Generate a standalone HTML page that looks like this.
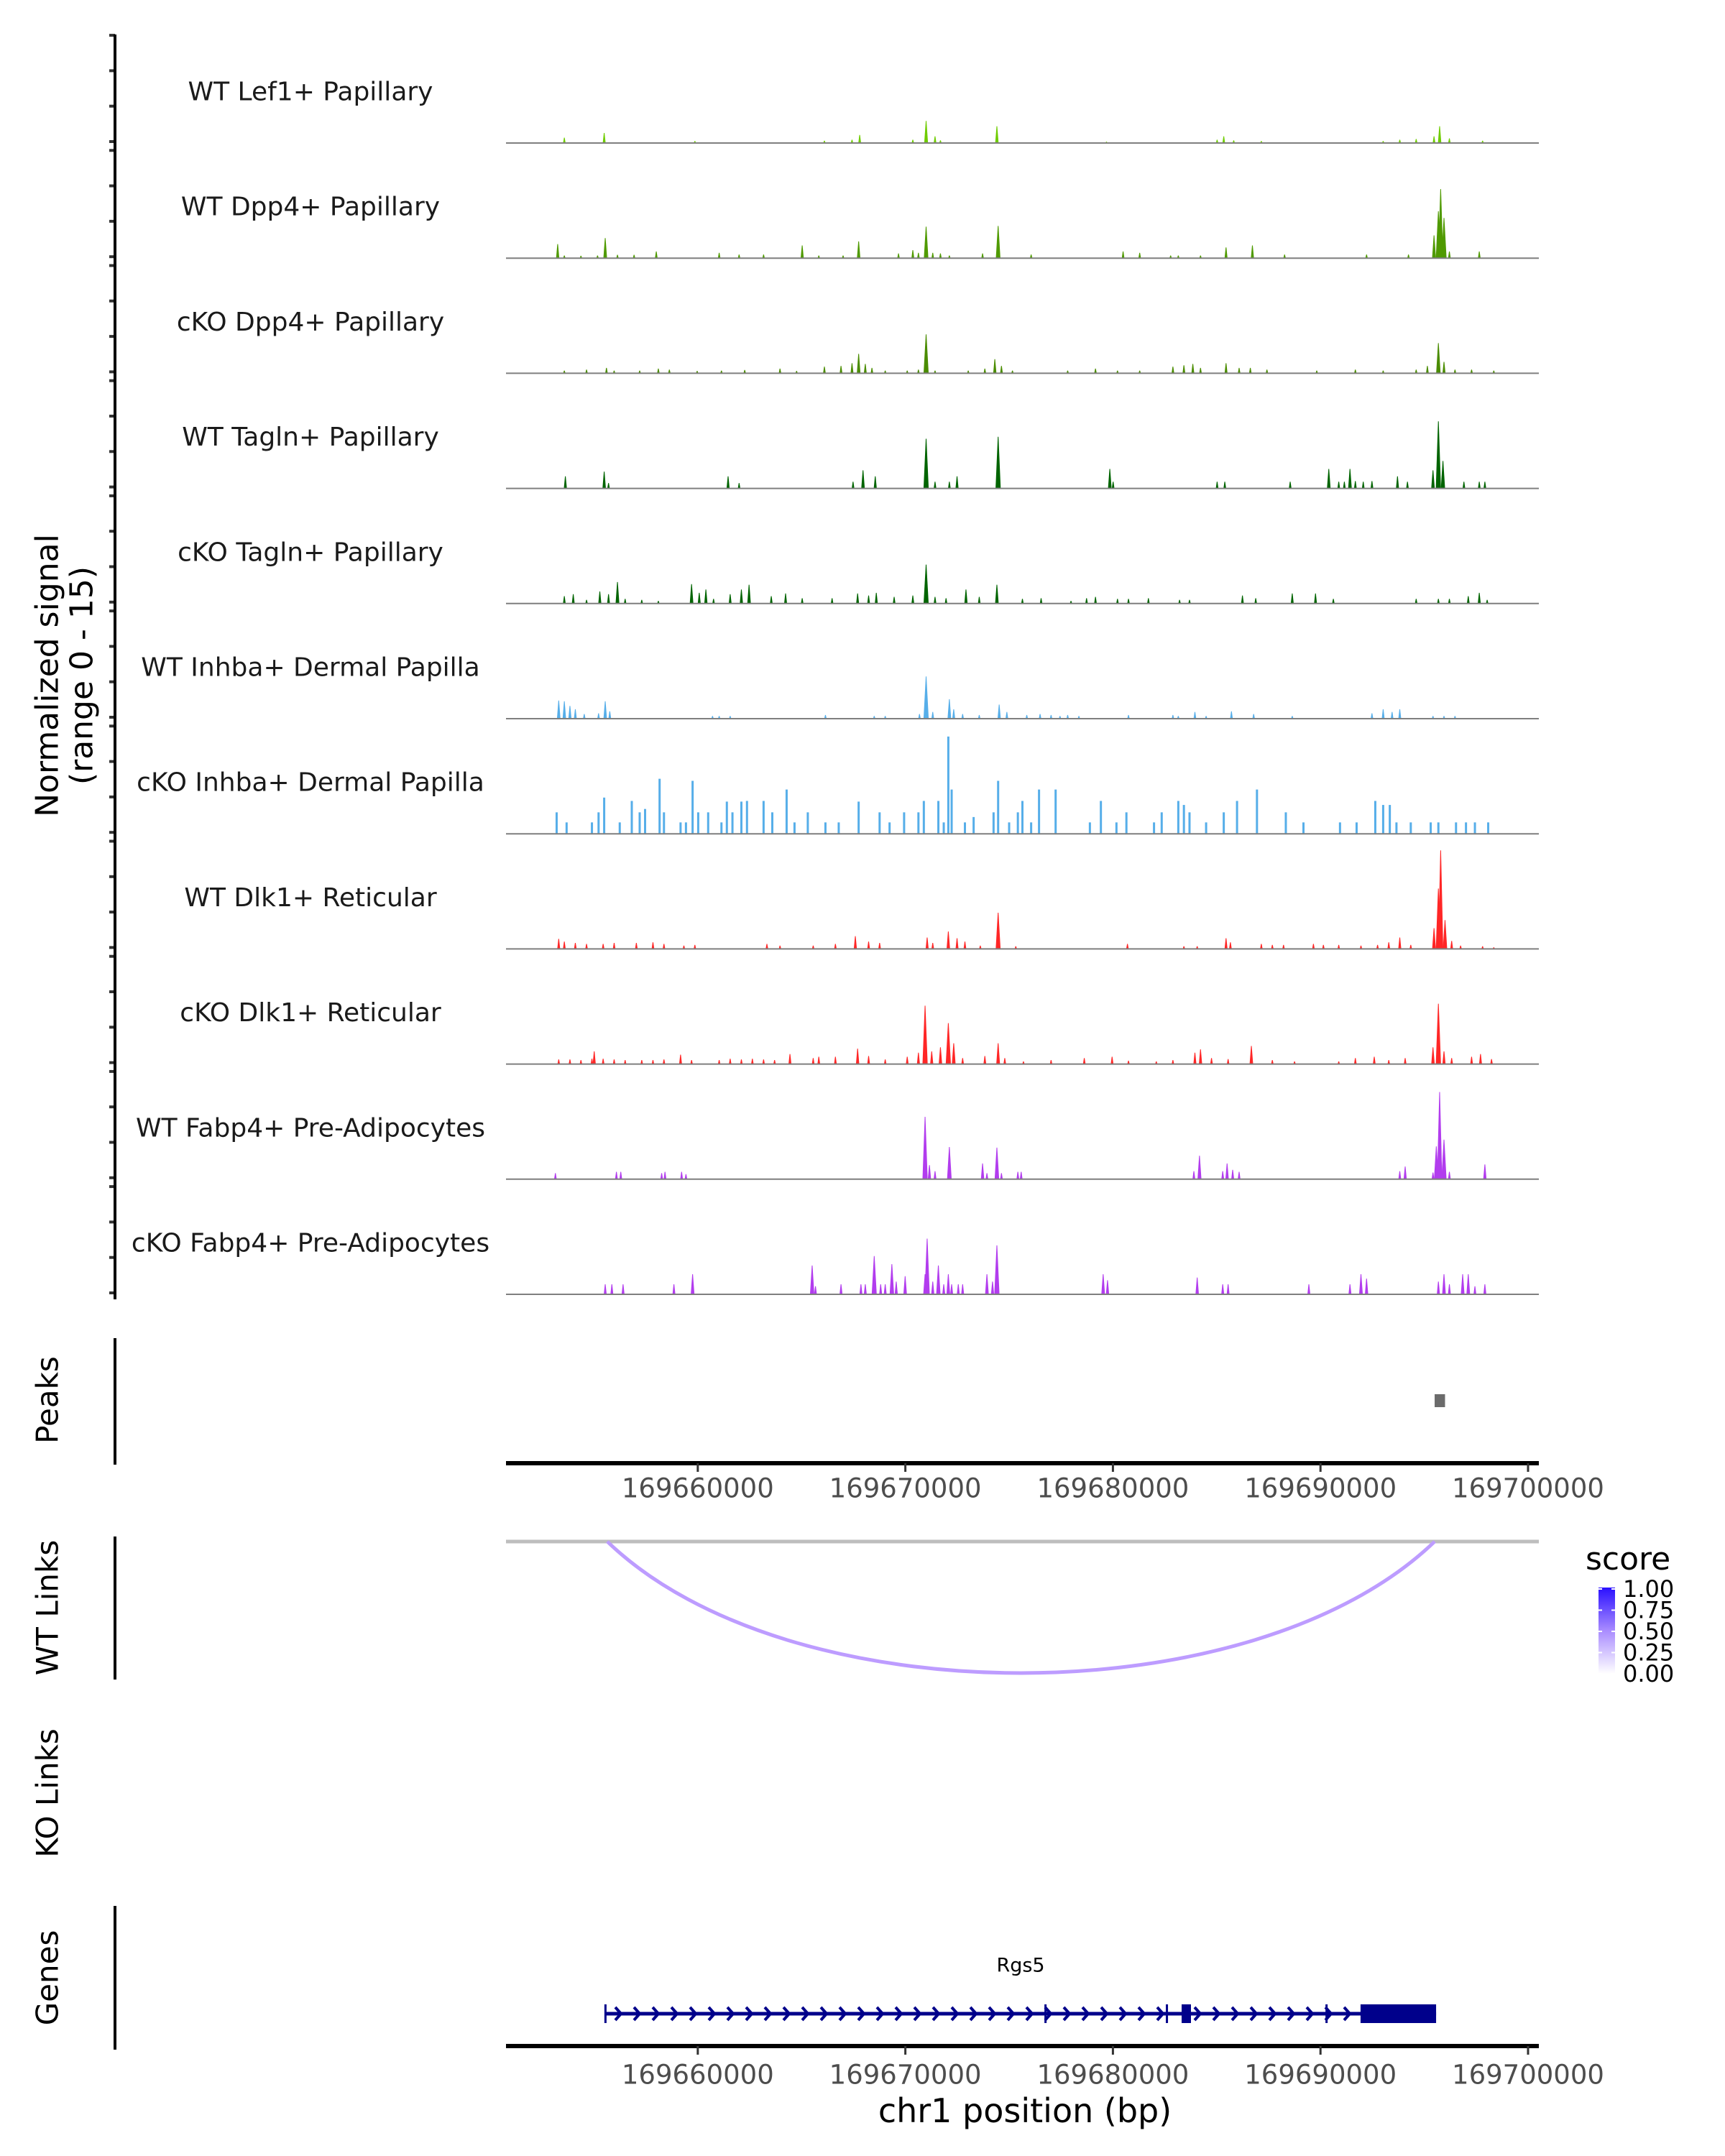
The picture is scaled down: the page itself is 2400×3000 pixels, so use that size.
<!DOCTYPE html>
<html><head><meta charset="utf-8">
<style>
html,body{margin:0;padding:0;background:#fff;}
svg{display:block;}
text{font-family:"DejaVu Sans","Liberation Sans",sans-serif;}
</style></head>
<body>
<svg id="chart" xmlns="http://www.w3.org/2000/svg" width="2400" height="3000" viewBox="0 0 2400 3000">
<defs>
<linearGradient id="scoreGrad" x1="0" y1="1" x2="0" y2="0">
<stop offset="0" stop-color="#ffffff"/>
<stop offset="0.5" stop-color="#a98cff"/>
<stop offset="1" stop-color="#2a10ff"/>
</linearGradient>
</defs>
<g id="tracks"></g>
<g id="frame"></g>
</svg>
<script>
// ---- data (positions in kb offset from chr1:169,650,000; heights = normalized signal 0-15)
const regionStartKb = 169650.76;
const regionEndKb = 169700.52;
const positionTicks = [169660000, 169670000, 169680000, 169690000, 169700000];
const trackNames = ["WT Lef1+ Papillary","WT Dpp4+ Papillary","cKO Dpp4+ Papillary","WT Tagln+ Papillary","cKO Tagln+ Papillary","WT Inhba+ Dermal Papilla","cKO Inhba+ Dermal Papilla","WT Dlk1+ Reticular","cKO Dlk1+ Reticular","WT Fabp4+ Pre-Adipocytes","cKO Fabp4+ Pre-Adipocytes"];
const trackColors = ["#6fcc00","#4f9a00","#4a8c00","#006400","#006400","#56aee9","#56aee9","#ff2626","#ff2626","#b23cee","#b23cee"];
const trackLef1 = [[3.57,0.8],[5.49,1.5],[9.86,0.3],[16.1,0.35],[17.43,0.5],[17.8,1.2],[20.36,0.5],[21.0,3.3],[21.43,1.0],[21.69,0.4],[24.41,2.5],[29.69,0.2],[35.02,0.5],[35.34,1.0],[35.82,0.4],[37.15,0.3],[43.02,0.3],[43.82,0.5],[44.61,0.6],[45.47,1.0],[45.74,2.5],[46.21,0.7],[47.81,0.35]];
const trackWtDpp4 = [[3.25,2.1],[3.57,0.4],[4.37,0.35],[5.17,0.4],[5.54,3.0],[6.13,0.5],[6.93,0.5],[8.0,1.0],[11.03,0.8],[11.99,0.55],[13.17,0.55],[15.03,1.9],[15.83,0.4],[17.0,0.4],[17.75,2.5],[19.67,0.7],[20.36,1.2],[20.63,0.8],[21.0,4.7],[21.32,0.8],[21.69,0.7],[22.12,0.4],[23.72,0.7],[24.47,4.8],[26.06,0.55],[30.49,1.0],[31.29,0.8],[32.78,0.4],[33.15,0.4],[34.22,0.4],[35.45,1.6],[36.72,1.9],[38.27,0.55],[42.22,0.55],[44.24,0.55],[45.47,3.4],[45.68,7.0],[45.79,10.3],[45.95,6.0],[46.21,1.0],[47.65,1.0]];
const trackCkoDpp4 = [[3.57,0.4],[4.64,0.55],[5.6,0.8],[5.97,0.4],[7.2,0.4],[8.1,0.7],[8.63,0.55],[9.97,0.35],[11.14,0.4],[12.26,0.5],[13.96,0.7],[14.76,0.35],[16.1,1.0],[16.9,1.1],[17.43,1.5],[17.75,2.9],[18.07,1.4],[18.39,0.8],[19.03,0.4],[20.09,0.4],[20.63,0.55],[21.0,5.8],[21.43,0.4],[23.03,0.4],[23.83,0.7],[24.31,2.1],[24.63,1.1],[25.16,0.4],[27.82,0.4],[29.16,0.7],[30.22,0.4],[31.29,0.4],[32.89,1.0],[33.42,1.2],[33.85,1.4],[34.22,0.8],[35.45,1.5],[36.08,0.8],[36.62,0.8],[37.42,0.55],[39.82,0.4],[41.68,0.55],[43.02,0.4],[44.61,0.55],[45.15,1.1],[45.68,4.5],[45.95,1.7],[46.48,0.55],[47.28,0.55],[48.35,0.4]];
const trackWtTagln = [[3.62,1.8],[5.49,2.5],[5.7,0.8],[11.46,1.8],[11.99,0.8],[17.48,1.0],[17.96,2.7],[18.55,1.8],[21.0,7.4],[21.43,1.0],[22.12,1.0],[22.49,1.8],[24.47,7.7],[29.85,2.9],[30.01,1.0],[35.02,1.0],[35.39,1.0],[38.54,1.0],[40.4,2.9],[40.88,1.0],[41.15,1.0],[41.42,2.9],[41.68,1.1],[42.06,1.0],[42.48,1.1],[43.71,1.8],[44.19,1.0],[45.42,2.7],[45.68,10.0],[45.9,4.1],[46.91,1.0],[47.65,1.0],[47.92,1.0]];
const trackCkoTagln = [[3.57,1.1],[4.0,1.4],[4.64,0.55],[5.28,1.8],[5.7,1.4],[6.13,3.2],[6.5,0.7],[7.3,0.55],[8.1,0.4],[9.7,2.9],[10.07,1.6],[10.39,2.1],[10.76,0.7],[11.56,1.4],[12.1,2.1],[12.47,2.8],[13.54,1.1],[14.23,1.5],[15.03,0.8],[16.47,0.8],[17.7,1.5],[18.23,1.2],[18.6,1.6],[19.46,1.0],[20.36,1.2],[21.0,5.8],[21.43,1.0],[21.96,0.8],[22.92,2.1],[23.56,1.0],[24.41,2.8],[25.64,0.7],[26.54,0.8],[27.98,0.4],[28.73,0.8],[29.16,1.0],[30.22,0.7],[30.75,0.7],[31.71,0.8],[33.21,0.55],[33.69,0.55],[36.24,1.2],[36.88,0.8],[38.64,1.5],[39.76,1.5],[40.62,0.7],[44.61,0.7],[45.68,0.7],[46.21,0.7],[47.12,1.1],[47.65,1.6],[48.03,0.55]];
const trackWtInhba = [[3.3,2.7],[3.57,2.6],[3.84,1.9],[4.1,1.4],[4.53,0.7],[5.22,0.8],[5.54,2.6],[5.76,1.1],[10.71,0.4],[11.03,0.4],[11.56,0.4],[16.15,0.55],[18.5,0.4],[19.03,0.4],[20.68,0.7],[21.0,6.3],[21.32,1.0],[22.12,2.9],[22.33,1.4],[22.76,0.7],[23.56,0.55],[24.52,2.1],[24.89,1.0],[25.85,0.55],[26.49,0.7],[27.02,0.55],[27.45,0.4],[27.82,0.55],[28.36,0.4],[30.75,0.55],[32.89,0.55],[33.15,0.4],[33.95,1.0],[34.49,0.4],[35.71,1.1],[36.78,0.7],[38.64,0.4],[42.48,0.8],[43.02,1.4],[43.45,1.0],[43.82,1.4],[45.42,0.4],[45.95,0.4],[46.48,0.4]];
const trackCkoInhba = [[3.2,3.2],[3.68,1.7],[4.9,1.7],[5.22,3.2],[5.49,5.4],[6.24,1.7],[6.82,4.9],[7.2,3.2],[7.46,3.7],[8.16,8.2],[8.37,3.2],[9.17,1.7],[9.43,1.7],[9.75,7.9],[10.02,3.2],[10.5,3.2],[11.14,1.7],[11.4,4.8],[11.67,3.2],[12.1,4.8],[12.37,4.9],[13.17,4.9],[13.59,3.2],[14.28,6.6],[14.66,1.7],[15.3,3.2],[16.15,1.7],[16.79,1.7],[17.75,4.8],[18.76,3.2],[19.24,1.7],[19.94,3.2],[20.63,3.2],[20.89,4.9],[21.59,4.9],[21.85,1.7],[22.07,14.5],[22.23,6.6],[22.87,1.7],[23.29,2.5],[24.25,3.2],[24.47,7.9],[25.0,1.7],[25.42,3.2],[25.64,4.9],[26.06,1.7],[26.44,6.6],[27.24,6.6],[28.89,1.7],[29.42,4.9],[30.17,1.7],[30.65,3.2],[31.98,1.7],[32.35,3.2],[33.15,4.9],[33.42,4.3],[33.69,3.2],[34.49,1.7],[35.34,3.2],[35.98,4.9],[36.94,6.6],[38.33,3.2],[39.18,1.7],[40.94,1.7],[41.74,1.7],[42.64,4.9],[43.02,4.3],[43.34,4.3],[43.66,1.7],[44.35,1.7],[45.31,1.7],[45.68,1.7],[46.53,1.7],[47.01,1.7],[47.44,1.7],[48.08,1.7]];
const trackWtDlk1 = [[3.3,1.5],[3.57,1.1],[4.1,0.9],[4.64,0.75],[5.44,0.75],[5.97,0.9],[7.04,0.9],[7.84,1.0],[8.37,0.75],[9.33,0.5],[9.86,0.6],[13.33,0.75],[13.96,0.5],[15.56,0.5],[16.63,0.75],[17.59,1.9],[18.23,1.1],[18.76,0.9],[21.05,1.7],[21.32,0.9],[22.07,2.6],[22.49,1.6],[22.87,1.1],[23.61,0.5],[24.47,5.4],[25.32,0.4],[30.7,0.75],[33.42,0.4],[34.06,0.4],[35.45,1.6],[35.66,1.0],[37.15,0.75],[37.68,0.6],[38.22,0.6],[39.66,0.75],[40.14,0.6],[40.88,0.6],[41.95,0.5],[42.75,0.6],[43.29,1.0],[43.82,1.7],[44.35,0.6],[45.47,3.1],[45.68,9.0],[45.79,14.7],[46.0,4.3],[46.32,1.2],[46.75,0.5],[47.81,0.4],[48.35,0.25]];
const trackCkoDlk1 = [[3.3,0.7],[3.84,0.7],[4.37,0.6],[4.9,0.8],[5.01,1.9],[5.44,0.8],[5.97,0.7],[6.5,0.6],[7.3,0.6],[7.84,0.6],[8.37,0.7],[9.17,1.4],[9.7,0.6],[11.03,0.6],[11.56,0.8],[12.1,0.7],[12.63,0.8],[13.17,0.7],[13.7,0.6],[14.44,1.5],[15.56,0.9],[15.83,1.1],[16.63,1.1],[17.7,2.3],[18.23,1.2],[19.03,0.7],[20.09,1.1],[20.63,1.7],[20.95,8.7],[21.27,1.9],[21.69,2.5],[22.07,6.1],[22.33,3.1],[22.76,0.9],[23.83,1.2],[24.47,3.1],[24.79,0.9],[25.69,0.4],[27.02,0.6],[28.62,0.9],[29.96,1.1],[30.75,0.5],[32.09,0.4],[32.89,0.6],[33.95,1.7],[34.22,2.2],[34.75,0.9],[35.55,0.75],[36.67,2.7],[37.68,0.6],[38.75,0.4],[40.88,0.4],[41.68,0.9],[42.59,1.1],[43.29,0.6],[44.08,0.9],[45.42,2.5],[45.68,9.0],[45.95,1.9],[46.32,0.9],[47.28,1.1],[47.71,1.5],[48.24,0.75]];
const trackWtFabp4 = [[3.14,0.9],[6.08,1.1],[6.29,1.1],[8.26,0.9],[8.42,1.1],[9.22,1.1],[9.43,0.75],[20.95,9.3],[21.16,2.1],[21.43,1.2],[22.12,4.8],[23.72,2.35],[23.93,0.9],[24.41,4.7],[24.63,0.9],[25.42,1.1],[25.58,1.1],[33.9,1.2],[34.17,3.5],[35.29,1.2],[35.5,2.35],[35.77,1.4],[36.08,1.1],[43.82,1.2],[44.08,1.9],[45.42,1.0],[45.58,4.9],[45.74,13.0],[45.95,5.9],[46.21,1.1],[47.92,2.2]];
const trackCkoFabp4 = [[5.54,1.5],[5.86,1.5],[6.4,1.5],[8.85,1.5],[9.75,3.0],[15.51,4.3],[15.67,1.2],[16.9,1.5],[17.86,1.5],[18.07,1.5],[18.5,5.7],[18.81,1.5],[19.03,1.5],[19.35,4.5],[19.56,1.9],[19.99,2.7],[20.95,3.0],[21.05,8.3],[21.32,1.9],[21.59,4.3],[21.85,1.5],[22.07,3.0],[22.23,1.5],[22.55,1.5],[22.76,1.5],[23.93,3.0],[24.2,1.9],[24.41,7.3],[29.53,3.0],[29.74,2.1],[34.06,2.5],[35.29,1.5],[35.55,1.5],[39.44,1.5],[41.42,1.5],[41.95,3.0],[42.22,2.35],[45.68,1.9],[45.95,3.0],[46.21,1.5],[46.85,3.0],[47.12,3.0],[47.44,1.2],[47.92,1.5]];
const trackSeries = [trackLef1,trackWtDpp4,trackCkoDpp4,trackWtTagln,trackCkoTagln,trackWtInhba,trackCkoInhba,trackWtDlk1,trackCkoDlk1,trackWtFabp4,trackCkoFabp4];
const peakRegions = [[45.5,46.0]];
const linkStarts = [5.64];
const linkEnds = [45.5];
const linkScores = [0.45];
const geneName = "Rgs5";
const geneStartKb = 5.54;
const geneEndKb = 45.57;
const exonsKb = [[5.5,5.6],[26.7,26.78],[32.55,32.62],[33.31,33.76],[40.24,40.32],[41.93,45.57]];
const scoreTicks = ["1.00","0.75","0.50","0.25","0.00"];

// ---- layout
const NS = "http://www.w3.org/2000/svg";
const X0 = 704, X1 = 2141;
const signalMax = 15, trackPx = 140;
const baseline0 = 199, trackStep = 160.2;
function xScale(kbOff){ return X0 + (kbOff - (regionStartKb-169650)) / ((regionEndKb-169650)-(regionStartKb-169650)) * (X1-X0); }
function bpX(bp){ return xScale(bp/1000 - 169650); }
function yScale(v, base){ return base - Math.min(v, signalMax)/signalMax*trackPx; }
function el(tag, attrs, parent, txt){ const e=document.createElementNS(NS,tag); for(const k in attrs) e.setAttribute(k,attrs[k]); if(txt!==undefined) e.textContent=txt; (parent||svg).appendChild(e); return e; }
const svg = document.getElementById('chart');
const tracksG = document.getElementById('tracks');
const frame = document.getElementById('frame');

trackSeries.forEach((series, i) => {
  const base = baseline0 + i*trackStep;
  const g = el('g', {}, tracksG);
  
  
  const lab = el('text', {x:432, y:base-71, 'text-anchor':'middle', 'dominant-baseline':'central', 'font-size':36, fill:'#1a1a1a'}, g, trackNames[i]);
  
  
  const isBar = (i === 6);
  series.forEach(p => {
    const cx = xScale(p[0]);
    const top = yScale(p[1], base);
    let d;
    if (isBar) { d = `M${cx-1.5},${base} L${cx-1.5},${top} L${cx+1.5},${top} L${cx+1.5},${base}Z`; }
    else { const w = 1.5 + Math.min(p[1],6)*0.35; d = `M${cx-w},${base} L${cx-0.5},${top} L${cx+0.5},${top} L${cx+w},${base}Z`; }
    const m = el('path', {d:d, fill:trackColors[i]}, g);
    
    
  });
  const bl = el('line', {x1:X0, x2:X1, y1:base, y2:base, stroke:'#7f7f7f', 'stroke-width':2}, g);
  
  
  for (let k=0;k<4;k++){
    const ty = base - 2 - k*49.3;
    const t = el('line', {x1:152, x2:160, y1:ty, y2:ty, stroke:'#333', 'stroke-width':4}, frame);
    
    
  }
});

function vline(x,y1,y2,name){ const l=el('line',{x1:x,x2:x,y1:y1,y2:y2,stroke:'#000','stroke-width':4},frame);   }
vline(160,48,1808,'signal-y-axis');
vline(160,1862,2038,'peaks-y-axis');
vline(160,2138,2337,'wt-links-y-axis');
vline(160,2652,2852,'genes-y-axis');

function rotLabel(txt, x, y, size, name){ const t=el('text',{x:x,y:y,'text-anchor':'middle','dominant-baseline':'central','font-size':size,fill:'#000',transform:`rotate(-90 ${x} ${y})`},frame,txt);   }
rotLabel('Normalized signal',66,940,44,'y-axis-title');
rotLabel('(range 0 - 15)',114,940,44,'y-axis-subtitle');
rotLabel('Peaks',66,1948,42,'peaks-label');
rotLabel('WT Links',66,2237,42,'wt-links-label');
rotLabel('KO Links',66,2495,42,'ko-links-label');
rotLabel('Genes',66,2752,42,'genes-label');

// peaks
peakRegions.forEach(r => {
  const p = el('rect',{x:xScale(r[0]),y:1940,width:xScale(r[1])-xScale(r[0]),height:18,fill:'#6b6b6b'},frame);
  
  
});

function xAxis(y, labY, name){
  const g = el('g',{},frame);
  
  
  el('line',{x1:X0,x2:X1,y1:y,y2:y,stroke:'#000','stroke-width':6},g);
  positionTicks.forEach(t => {
    const x = bpX(t);
    const tk = el('line',{x1:x,x2:x,y1:y,y2:y+12,stroke:'#333','stroke-width':3},g);
    
    
    const tl = el('text',{x:x,y:labY,'text-anchor':'middle','dominant-baseline':'central','font-size':37,fill:'#4d4d4d'},g,String(t));
    
    
  });
}
xAxis(2036,2071,'peaks-x-axis');

// links
const lb = el('line',{x1:X0,x2:X1,y1:2145,y2:2145,stroke:'#bebebe','stroke-width':5},frame);


linkStarts.forEach((s,i) => {
  const xa = xScale(s), xb = xScale(linkEnds[i]);
  const depth = 183;
  const arc = el('path',{d:`M${xa},2145 C${xa+(xb-xa)*0.22},${2145+depth*1.333} ${xb-(xb-xa)*0.22},${2145+depth*1.333} ${xb},2145`,fill:'none',stroke:'#bd9cff','stroke-width':5},frame);
  
  
});

// legend
const lg = el('g',{},frame);


el('text',{x:2224,y:2206,'font-size':44,'text-anchor':'start',fill:'#000',transform:'translate(-18,-22)'},lg,'score');
el('rect',{x:2224,y:2209,width:23,height:120,fill:'url(#scoreGrad)'},lg);
scoreTicks.forEach((s,i)=>{
  const ty = 2211 + i*29.5;
  el('line',{x1:2224,x2:2229,y1:ty,y2:ty,stroke:'#fff','stroke-width':2},lg);
  el('line',{x1:2242,x2:2247,y1:ty,y2:ty,stroke:'#fff','stroke-width':2},lg);
  el('text',{x:2258,y:ty,'dominant-baseline':'central','font-size':32,fill:'#000'},lg,s);
});

// gene
const gg = el('g',{},frame);


const gy = 2802;
const gx0 = xScale(geneStartKb), gx1 = xScale(geneEndKb);
el('line',{x1:gx0,x2:gx1,y1:gy,y2:gy,stroke:'#00008b','stroke-width':5},gg);
for (let x = gx0 + 18; x < gx1 - 10; x += 26) {
  const inExon = exonsKb.some(e => x+6 > xScale(e[0]) && x-6 < xScale(e[1]) && (xScale(e[1])-xScale(e[0]))>10);
  if (inExon) continue;
  el('path',{d:`M${x-4},${gy-9} L${x+4},${gy} L${x-4},${gy+9}`,fill:'none',stroke:'#00008b','stroke-width':4},gg);
}
exonsKb.forEach(e=>{
  const a = xScale(e[0]), b = xScale(e[1]);
  const w = Math.max(b-a, 3);
  const r = el('rect',{x:a,y:gy-13,width:w,height:26,fill:'#00008b'},gg);
  
  
});
el('text',{x:(gx0+gx1)/2,y:2735,'text-anchor':'middle','dominant-baseline':'central','font-size':27,fill:'#000'},gg,geneName);

xAxis(2847,2887,'genes-x-axis');
const xt = el('text',{x:1426,y:2937,'text-anchor':'middle','dominant-baseline':'central','font-size':46,fill:'#000'},frame,'chr1 position (bp)');


</script>
</body></html>
